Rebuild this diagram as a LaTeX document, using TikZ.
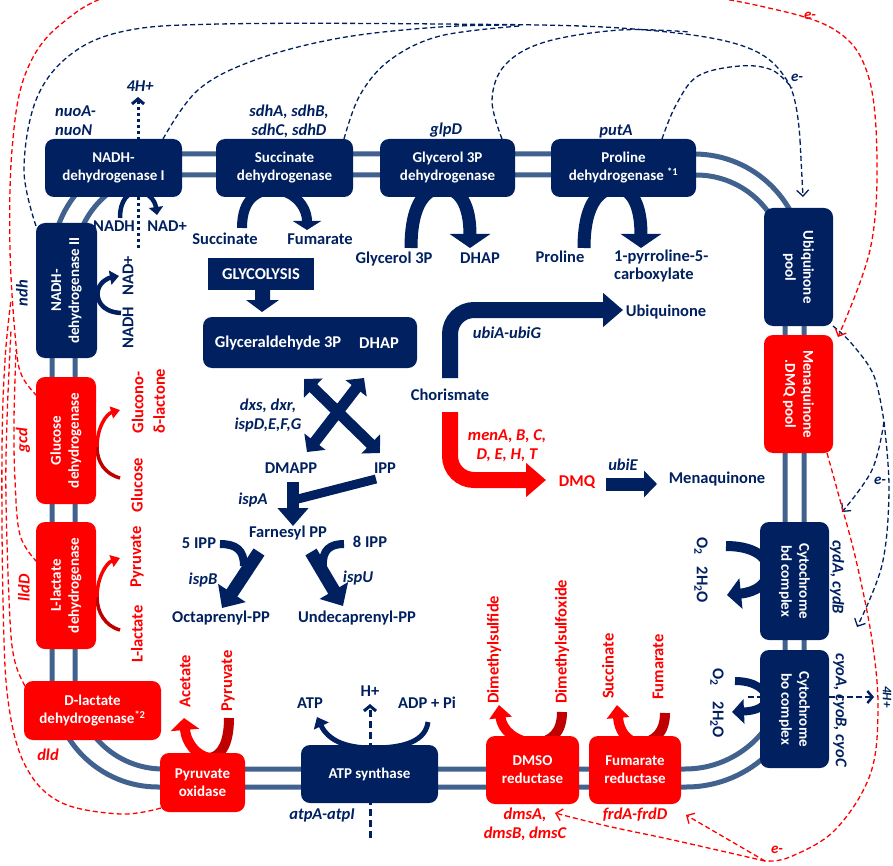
\documentclass[tikz,border=0pt]{standalone}
\usepackage{fontspec}
\setmainfont{Carlito}
\usetikzlibrary{arrows.meta}
\definecolor{navy}{HTML}{002060}
\definecolor{memb}{HTML}{41618E}
\definecolor{dred}{HTML}{C00000}
\definecolor{rred}{HTML}{FF0000}
\newcommand\bxf{\fontsize{15}{18}\selectfont\bfseries}
\newcommand\lbf{\fontsize{16.5}{18.5}\selectfont\bfseries}
\newcommand\gnf{\fontsize{16.5}{19}\selectfont\bfseries\itshape}
\tikzset{
  box/.style={fill=navy, rounded corners=9pt, text=white, font=\bxf, align=center, inner sep=1pt},
  rbox/.style={box, fill=rred},
  lb/.style={text=navy, font=\lbf, inner sep=0pt, align=center},
  rl/.style={lb, text=rred},
  gn/.style={lb, font=\gnf},
  rgn/.style={gn, text=rred},
  nd/.style={navy, line width=1.3pt, dash pattern=on 5pt off 3pt},
  rd/.style={rred, line width=1.3pt, dash pattern=on 5pt off 3pt},
  barb/.style={-{Straight Barb[length=6pt,width=12pt]}},
  mem/.style={memb, line width=5pt},
}
\begin{document}
\begin{tikzpicture}[x=1pt,y=-1pt]
\clip (0,0) rectangle (893,866);
% membrane
\draw[mem] (160,154) -- (694,154) arc[start angle=-90,end angle=0,radius=110] -- (804,669) arc[start angle=0,end angle=90,radius=118] -- (158,787) arc[start angle=90,end angle=180,radius=106] -- (52,262) arc[start angle=180,end angle=270,radius=108] -- cycle;
\draw[mem] (162,175) -- (696,175) arc[start angle=-90,end angle=0,radius=89] -- (785,669) arc[start angle=0,end angle=90,radius=100] -- (163,769) arc[start angle=90,end angle=180,radius=88] -- (75,262) arc[start angle=180,end angle=270,radius=87] -- cycle;

% navy dashed electron paths (top)
\draw[nd] plot[smooth, tension=0.6] coordinates {(36,226) (24,170) (36,100) (70,55) (125,31) (220,24) (440,24) (620,28) (740,45) (788,82) (800,140)};
\draw[nd, barb] (800,140) -- (803,197);
\draw[nd] plot[smooth, tension=0.6] coordinates {(163,139) (198,90) (255,60) (340,38) (440,27) (520,25)};
\draw[nd] plot[smooth, tension=0.6] coordinates {(344,139) (360,95) (390,60) (440,36) (520,26)};
\draw[nd] plot[smooth, tension=0.6] coordinates {(502,139) (492,100) (505,65) (545,42) (620,30) (690,32)};
\draw[nd] plot[smooth, tension=0.6] coordinates {(662,139) (676,105) (698,76) (740,66) (772,70) (792,88)};
% navy dashed (right)
\draw[nd] plot[smooth, tension=0.6] coordinates {(833,326) (852,344) (874,376) (884,422)};
\draw[nd, barb] plot[smooth, tension=0.6] coordinates {(884,422) (872,470) (842,512)};
\draw[nd, barb] plot[smooth, tension=0.6] coordinates {(884,422) (889,490) (882,565) (857,627)};

% red dashed
\draw[rd, barb] plot[smooth, tension=0.6] coordinates {(37,396) (22,376) (16,345) (10,250) (12,150) (25,75) (60,25) (130,-10) (300,-30) (500,-30) (650,-12) (760,6) (835,30) (868,75) (877,160) (870,250) (838,337)};
\draw[rd] plot[smooth, tension=0.6] coordinates {(37,562) (20,535) (15,480) (14,420) (16,350)};
\draw[rd] plot[smooth, tension=0.6] coordinates {(25,686) (15,662) (10,620) (6,500) (7,420) (11,330)};
\draw[rd] plot[smooth, tension=0.6] coordinates {(161,808) (120,814) (60,802) (25,765) (8,700) (3,600) (2,450) (5,360) (11,300)};
\draw[rd] plot[smooth, tension=0.6] coordinates {(827,453) (840,500) (856,560) (872,640) (878,710) (870,775) (835,830) (790,857) (765,861)};
\draw[rd, barb] (765,861) -- (686,815);
\draw[rd, barb] plot[smooth, tension=0.6] coordinates {(765,861) (673,840) (607,826) (555,813)};

% reaction arcs (under boxes)
\draw[navy, line width=4.5pt, -{Triangle[width=14pt,length=8pt]}] (120,218) .. controls (120,200) and (128,192) .. (138,192) .. controls (148,192) and (155,200) .. (157,215);
\draw[navy, line width=10pt, -{Triangle[width=28pt,length=9pt]}] (242,228) .. controls (242,198) and (258,190) .. (274,190) .. controls (292,190) and (307,205) .. (307,230);
\draw[navy, line width=13pt, -{Triangle[width=40pt,length=14pt]}] (411,248) .. controls (411,200) and (428,188) .. (442,188) .. controls (460,188) and (470,205) .. (470,248);
\draw[navy, line width=13pt, -{Triangle[width=40pt,length=14pt]}] (584,248) .. controls (584,200) and (602,188) .. (616,188) .. controls (632,188) and (641,205) .. (641,248);
\draw[navy, line width=4.5pt, -{Triangle[width=14pt,length=9pt]}] (121,313) .. controls (100,312) and (96,298) .. (98,290) .. controls (100,282) and (108,278) .. (119,276);
\draw[dred, line width=3.5pt] (120,478) .. controls (105,474) and (97,462) .. (97,447);
\draw[rred, line width=3.5pt, -{Triangle[width=12pt,length=9pt]}] (97,447) .. controls (97,428) and (106,414) .. (120,410);
\draw[dred, line width=3.5pt] (120,630) .. controls (105,626) and (97,612) .. (97,597);
\draw[rred, line width=3.5pt, -{Triangle[width=12pt,length=9pt]}] (97,597) .. controls (97,578) and (106,563) .. (120,558);
\draw[navy, line width=10pt, -{Triangle[width=30pt,length=14pt]}] (726,546) .. controls (752,546) and (768,556) .. (768,570) .. controls (768,584) and (756,592) .. (727,595);
\draw[navy, line width=8pt, -{Triangle[width=24pt,length=12pt]}] (735,681) .. controls (755,681) and (766,690) .. (766,698) .. controls (766,707) and (756,711) .. (732,712);
\draw[dred, line width=10pt] (229,718) .. controls (229,742) and (222,756) .. (210,758);
\draw[rred, line width=10pt, -{Triangle[width=28pt,length=12pt]}] (210,758) .. controls (196,756) and (186,742) .. (184,718);
\draw[dred, line width=10pt] (562,712) .. controls (562,732) and (552,742) .. (535,743);
\draw[rred, line width=10pt, -{Triangle[width=22pt,length=13pt]}] (535,743) .. controls (515,742) and (502,730) .. (499,705);
\draw[dred, line width=10pt] (665,713) .. controls (665,732) and (655,742) .. (640,743);
\draw[rred, line width=10pt, -{Triangle[width=22pt,length=13pt]}] (640,743) .. controls (626,742) and (619,730) .. (617,705);
\draw[navy, line width=5pt, -{Triangle[width=16pt,length=10pt]}] (428,722) .. controls (425,745) and (395,748) .. (372,748) .. controls (345,748) and (328,740) .. (317,717);
% proton arrows
\draw[navy, line width=3pt, dash pattern=on 3pt off 3pt, -{Straight Barb[length=5pt,width=12pt]}] (138,248) -- (138,97);
\draw[navy, line width=3pt, dash pattern=on 7pt off 4pt, -{Straight Barb[length=5pt,width=12pt]}] (370,838) -- (370,704);
\draw[navy, line width=2.5pt, dash pattern=on 6pt off 3pt, -{Straight Barb[length=5pt,width=12pt]}] (748,697) -- (874,697);

% boxes
\node[box, minimum width=137pt, minimum height=58pt] (nadh1) at (113.5,168) {NADH-\\dehydrogenase I};
\node[box, minimum width=137pt, minimum height=58pt] (sdh) at (284.5,168) {Succinate\\dehydrogenase};
\node[box, minimum width=135pt, minimum height=58pt] (glp) at (447.5,168) {Glycerol 3P\\dehydrogenase};
\node[box, minimum width=145pt, minimum height=58pt] (put) at (623.5,168) {Proline\\dehydrogenase \textsuperscript{*1}};
\node[box, rotate=-90, minimum width=118pt, minimum height=69pt] (ubi) at (798.5,267) {Ubiquinone\\pool};
\node[rbox, rotate=-90, minimum width=118pt, minimum height=69pt] (mena) at (798.5,394) {Menaquinone\\.DMQ pool};
\node[box, rotate=-90, minimum width=118pt, minimum height=69pt] (cbd) at (794.5,581) {Cytochrome\\bd complex};
\node[box, rotate=-90, minimum width=118pt, minimum height=69pt] (cbo) at (794.5,709) {Cytochrome\\bo complex};
\node[box, rotate=90, minimum width=135pt, minimum height=61pt] (nadh2) at (66.5,290.5) {NADH-\\dehydrogenase II};
\node[rbox, rotate=90, minimum width=127pt, minimum height=60pt] (gdh) at (66,440.5) {Glucose\\dehydrogenase};
\node[rbox, rotate=90, minimum width=127pt, minimum height=60pt] (ldh) at (66,585.5) {L-lactate\\dehydrogenase};
\node[rbox, minimum width=137pt, minimum height=59pt] (dldh) at (92.5,710.5) {D-lactate\\dehydrogenase\textsuperscript{*2}};
\node[rbox, minimum width=85pt, minimum height=59pt] (pox) at (202.5,782.5) {Pyruvate\\oxidase};
\node[box, minimum width=137pt, minimum height=58pt] (atp) at (369.5,774) {ATP synthase};
\node[rbox, minimum width=93pt, minimum height=68pt] (dmso) at (532.5,770) {DMSO\\reductase};
\node[rbox, minimum width=92pt, minimum height=68pt] (frd) at (635,770) {Fumarate\\reductase};

% central pathway
\node[box, rounded corners=0pt, minimum width=106pt, minimum height=32pt, font=\lbf] (glyc) at (261,274) {GLYCOLYSIS};
\fill[navy] (255,290) -- (270,290) -- (270,300) -- (279,300) -- (262,312) -- (246,300) -- (255,300) -- cycle;
\node[box, minimum width=214pt, minimum height=51pt] (gbox) at (310,342.5) {};
\node[lb, text=white] (g3p) at (278,343) {Glyceraldehyde 3P};
\node[lb, text=white] (dhapg) at (379,343) {DHAP};
\draw[navy, line width=11pt, {Triangle[width=26pt,length=13pt]}-{Triangle[width=26pt,length=13pt]}] (304,379) -- (380,453);
\draw[navy, line width=11pt, {Triangle[width=26pt,length=13pt]}-{Triangle[width=26pt,length=13pt]}] (364,378) -- (307,452);
\draw[navy, line width=9pt] (376,479) -- (294,500);
\draw[navy, line width=12pt, -{Triangle[width=30pt,length=18pt]}] (293,482) -- (293,526);
\draw[navy, line width=8pt] (220,544) .. controls (236,544) and (244,550) .. (244,566);
\draw[navy, line width=13pt, -{Triangle[width=32pt,length=18pt]}] (259,552) -- (222,608);
\draw[navy, line width=8pt] (344,544) .. controls (330,544) and (322,550) .. (323,566);
\draw[navy, line width=13pt, -{Triangle[width=32pt,length=18pt]}] (311,552) -- (343,606);
\draw[navy, line width=16pt, rounded corners=24pt, -{Triangle[width=33pt,length=20pt]}] (450,378) -- (450,310) -- (623,310);
\draw[rred, line width=16pt, rounded corners=24pt, -{Triangle[width=33pt,length=20pt]}] (450,412) -- (450,480) -- (546,480);
\draw[navy, line width=13pt, -{Triangle[width=26pt,length=13pt]}] (606,484) -- (657,484);

% navy labels
\node[gn] (h4) at (140,86) {4H+};
\node[gn, anchor=west, align=left] (nuo) at (55,121) {nuoA-\\nuoN};
\node[gn] (sdhg) at (289,121) {sdhA, sdhB,\\sdhC, sdhD};
\node[gn] (glpg) at (446,130) {glpD};
\node[gn] (putg) at (616,131) {putA};
\node[lb] (nadh) at (114,226) {NADH};
\node[lb] (nadp) at (167,226) {NAD+};
\node[lb] (succ) at (225,239) {Succinate};
\node[lb] (fum) at (320,239) {Fumarate};
\node[lb] (gl3p) at (394,259) {Glycerol 3P};
\node[lb] (dhap) at (480,258) {DHAP};
\node[lb] (pro) at (560,257) {Proline};
\node[lb, anchor=west, align=left] (p5c) at (614,266) {1-pyrroline-5-\\carboxylate};
\node[gn, rotate=90] (ndh) at (22,293) {ndh};
\node[lb, rotate=90] (nadp2) at (128,276) {NAD+};
\node[lb, rotate=90] (nadh2l) at (128,328) {NADH};
\node[gn] (dxs) at (268,416) {dxs, dxr,\\ispD,E,F,G};
\node[lb] (dmapp) at (291,468) {DMAPP};
\node[lb] (ipp) at (385,468) {IPP};
\node[gn] (ispa) at (253,500) {ispA};
\node[lb] (fpp) at (288,533) {Farnesyl PP};
\node[lb] (ipp5) at (199,543) {5 IPP};
\node[lb] (ipp8) at (370,542) {8 IPP};
\node[gn] (ispb) at (203,580) {ispB};
\node[gn] (ispu) at (358,578) {ispU};
\node[lb] (octa) at (221,618) {Octaprenyl-PP};
\node[lb] (undec) at (357,618) {Undecaprenyl-PP};
\node[lb] (chor) at (450,395) {Chorismate};
\node[lb] (ubq) at (666,312) {Ubiquinone};
\node[gn] (ubiag) at (507,333) {ubiA-ubiG};
\node[gn] (ubie) at (623,465) {ubiE};
\node[lb] (menq) at (717,479) {Menaquinone};
\node[lb, rotate=-90] (o2a) at (701,546) {O\textsubscript{2}};
\node[lb, rotate=-90] (h2oa) at (701,585) {2H\textsubscript{2}O};
\node[lb, rotate=-90] (o2b) at (717,677) {O\textsubscript{2}};
\node[lb, rotate=-90] (h2ob) at (717,720) {2H\textsubscript{2}O};
\node[gn, rotate=-90] (cyd) at (837,577) {cydA, cydB};
\node[gn, rotate=-90] (cyo) at (840,710) {cyoA, cyoB, cyoC};
\node[gn, rotate=-90, font=\fontsize{13}{15}\selectfont\bfseries\itshape] (h4r) at (887,697) {4H+};
\node[gn, font=\fontsize{15}{17}\selectfont\bfseries\itshape] (e1) at (797,78) {e-};
\node[gn, font=\fontsize{15}{17}\selectfont\bfseries\itshape] (e2) at (880,481) {e-};
\node[lb] (atpl) at (310,703) {ATP};
\node[lb] (hpl) at (370,691) {H+};
\node[lb] (adp) at (427,703) {ADP + Pi};
\node[gn] (atpg) at (322,815) {atpA-atpI};

% red labels
\node[rgn, rotate=90] (gcd) at (23,440) {gcd};
\node[rgn, rotate=90] (lldd) at (24,588) {lldD};
\node[rgn] (dld) at (48,755) {dld};
\node[rl, rotate=90] (glc) at (137,485) {Glucose};
\node[rl, rotate=90, align=left] (gdl) at (148.5,401) {Glucono-\\[3pt]δ-lactone};
\node[rl, rotate=90] (llac) at (137,634) {L-lactate};
\node[rl, rotate=90] (pyr1) at (137,557) {Pyruvate};
\node[rl, rotate=90] (acet) at (185,681) {Acetate};
\node[rl, rotate=90] (pyr2) at (228,681) {Pyruvate};
\node[rl, rotate=90, anchor=west] (dms) at (494,704) {Dimethylsulfide};
\node[rl, rotate=90, anchor=west] (dmso2) at (562,704) {Dimethylsulfoxide};
\node[rl, rotate=90, anchor=west] (succ2) at (608,699) {Succinate};
\node[rl, rotate=90, anchor=west] (fum2) at (658,700) {Fumarate};
\node[rgn] (men) at (507,446) {menA, B, C,\\D, E, H, T};
\node[rl] (dmq) at (577,482) {DMQ};
\node[rgn] (dmsg) at (525,824) {dmsA,\\dmsB, dmsC};
\node[rgn] (frdg) at (635,815) {frdA-frdD};
\node[rgn, font=\fontsize{15}{17}\selectfont\bfseries\itshape] (e3) at (810,16) {e-};
\node[rgn, font=\fontsize{15}{17}\selectfont\bfseries\itshape] (e4) at (777,850) {e-};
\end{tikzpicture}
\end{document}
